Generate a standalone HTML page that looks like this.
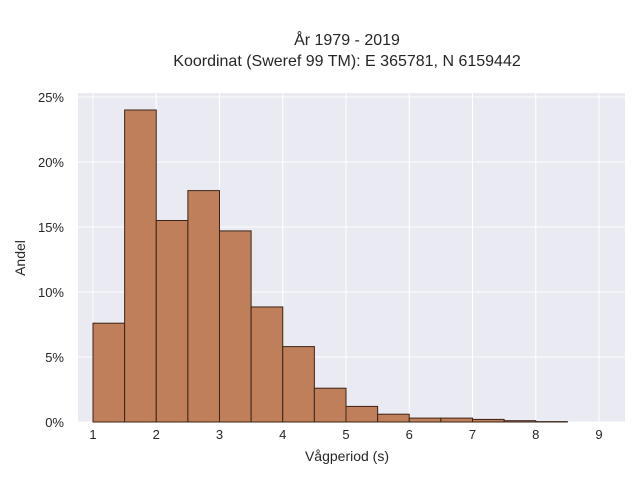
<!DOCTYPE html>
<html><head><meta charset="utf-8"><style>
body{margin:0;background:#fff;font-family:"Liberation Sans",sans-serif;}
svg text{font-family:"Liberation Sans",sans-serif;fill:#262626;}
</style></head><body>
<svg width="640" height="480" viewBox="0 0 640 480">
<text x="347" y="45" font-size="16" text-anchor="middle">År 1979 - 2019</text>
<text x="347" y="66" font-size="16" text-anchor="middle">Koordinat (Sweref 99 TM): E 365781, N 6159442</text>
<rect x="78" y="93" width="547" height="329" fill="#eaeaf2"/>
<g id="grid"></g>
<g id="bars"></g>
<g id="ticks"></g>
<text x="347" y="461" font-size="14" text-anchor="middle">Vågperiod (s)</text>
<text transform="translate(25,258) rotate(-90)" font-size="14" text-anchor="middle">Andel</text>
</svg>
<script>
const binStarts=[1,1.5,2,2.5,3,3.5,4,4.5,5,5.5,6,6.5,7,7.5,8];
const binWidth=0.5;
const shares=[7.6,24.0,15.5,17.8,14.7,8.85,5.8,2.6,1.2,0.6,0.3,0.3,0.2,0.1,0.03];
const xTicks=[1,2,3,4,5,6,7,8,9];
const yTicks=[0,5,10,15,20,25];
const NS="http://www.w3.org/2000/svg";
const X=v=>93+(v-1)*63.25;
const Y=v=>422-v*13;
const grid=document.getElementById('grid'),bars=document.getElementById('bars'),ticks=document.getElementById('ticks');
function mk(tag,attrs,parent){const e=document.createElementNS(NS,tag);for(const k in attrs)e.setAttribute(k,attrs[k]);parent.appendChild(e);return e;}
yTicks.forEach(t=>{
  const l=mk('line',{x1:78,x2:625,y1:Y(t),y2:Y(t),stroke:'#fff','stroke-width':1},grid);
  
  
  const tx=mk('text',{x:64,y:Y(t)+5,'font-size':13,'text-anchor':'end'},ticks);
  tx.textContent=t+'%';
  
  
});
xTicks.forEach(t=>{
  const l=mk('line',{x1:X(t),x2:X(t),y1:93,y2:422,stroke:'#fff','stroke-width':1},grid);
  
  
  const tx=mk('text',{x:X(t),y:439,'font-size':13,'text-anchor':'middle'},ticks);
  tx.textContent=t;
  
  
});
binStarts.forEach((b,i)=>{
  const x0=X(b),x1=X(b+binWidth),y=Y(shares[i]);
  const r=mk('rect',{x:x0,y:y,width:x1-x0,height:422-y,fill:'#bf7f5a',stroke:'#3a2418','stroke-width':1},bars);
  
  
});
</script>
</body></html>
